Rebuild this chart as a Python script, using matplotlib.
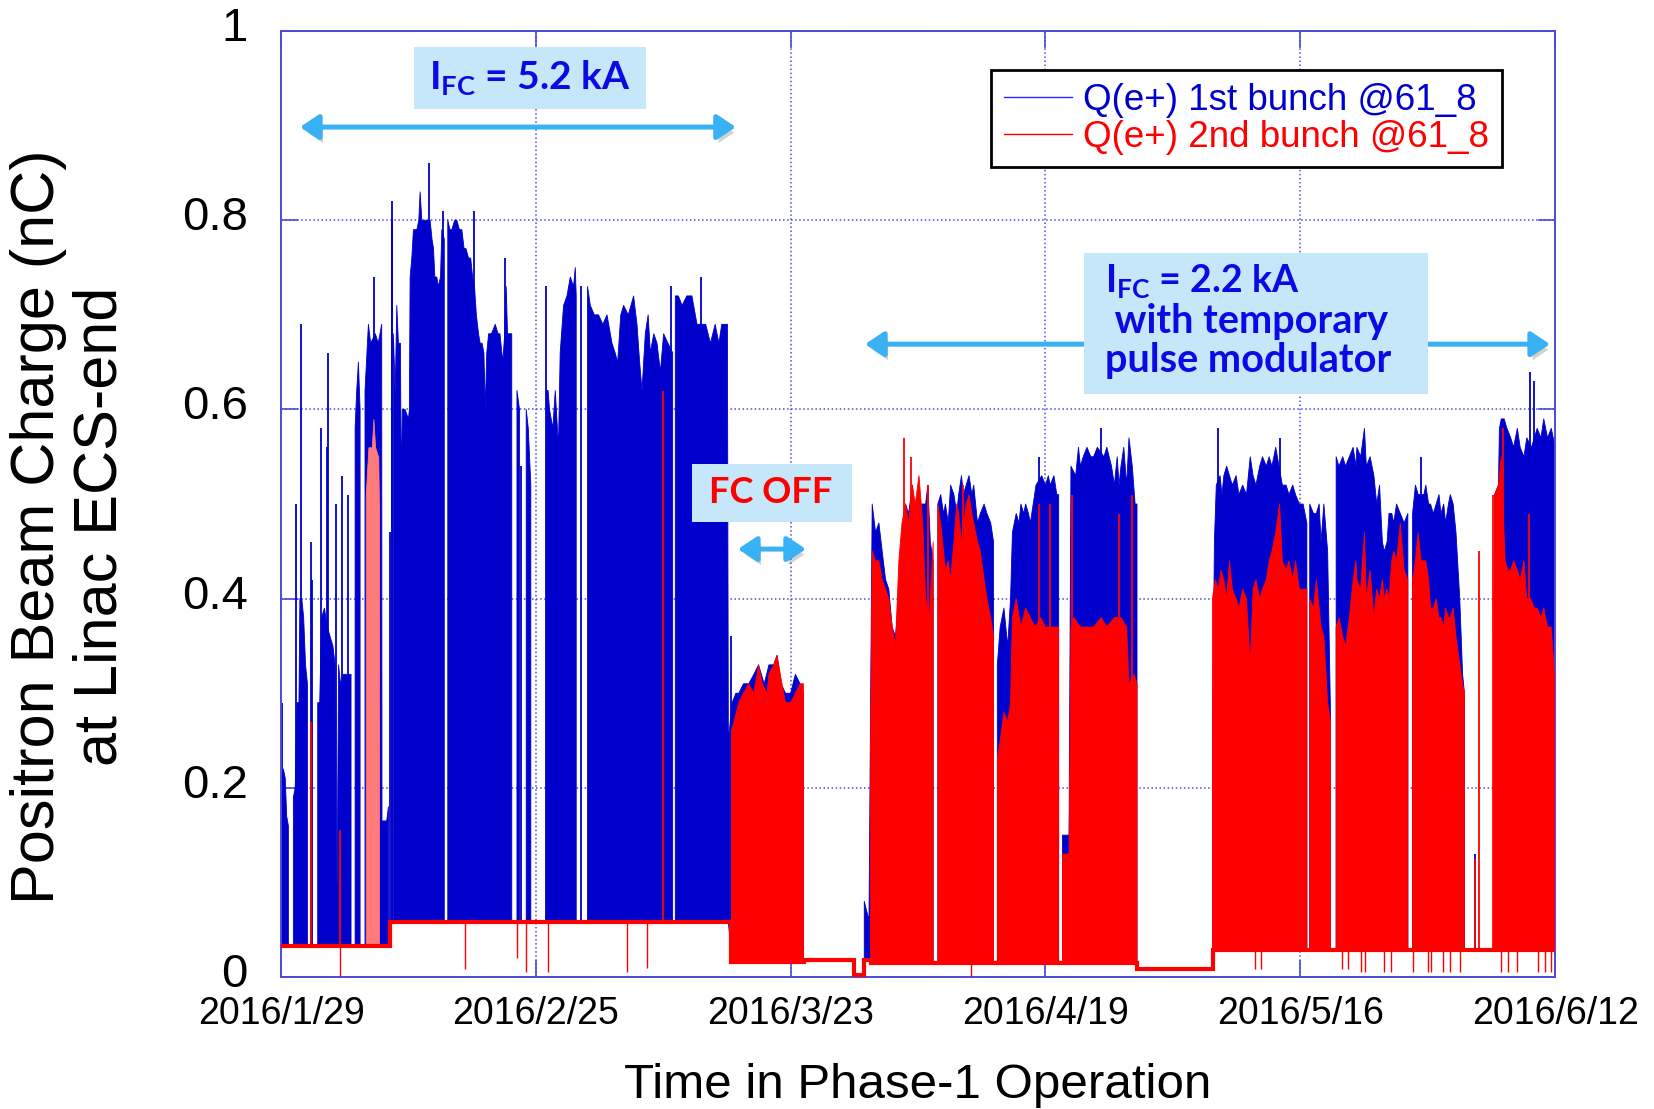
#!/usr/bin/env python3
"""Positron beam charge at Linac ECS-end during Phase-1 operation."""

import matplotlib

matplotlib.use("Agg")
import matplotlib.pyplot as plt
import matplotlib.patheffects as pe
import matplotlib.transforms as mtransforms
import numpy as np
from matplotlib.lines import Line2D
from matplotlib.patches import FancyArrowPatch, Rectangle

nan = np.nan

# x axis: days since 2016/1/29
tick_days = [0, 27, 54, 81, 108, 135]
tick_labels = ["2016/1/29", "2016/2/25", "2016/3/23", "2016/4/19", "2016/5/16", "2016/6/12"]
y_ticks = [0, 0.2, 0.4, 0.6, 0.8, 1.0]
y_tick_labels = ["0", "0.2", "0.4", "0.6", "0.8", "1"]

# pedestal level of the charge monitor (step segments)
base_edges = [0, 11.56, 47.72, 55.4, 60.75, 61.75, 62.5, 90.7, 98.7, 135]
base_vals = [0.033, 0.058, 0.016, 0.018, 0.002, 0.018, 0.015, 0.008, 0.029]

# 1st bunch: upper envelope of the dense pulse record (nan = no beam)
blue_day = [
    0.0, 0.25, 0.45, 0.6, 0.78, 0.8,
    1.31, 1.5, 1.7, 1.9, 2.0, 2.2, 2.4, 2.6, 2.8, 2.85,
    3.89, 4.1, 4.3, 4.6, 4.9, 5.2, 5.5, 5.73, 5.85, 5.95, 6.1, 6.3, 6.6, 6.9, 7.3, 7.42, 7.5,
    7.85, 8.02, 8.2, 8.38, 8.45,
    8.9, 9.26, 9.5, 10.0, 10.3, 10.67, 10.7, 11.2, 11.38, 11.45,
    11.9, 12.1, 12.27, 12.44, 12.65, 12.75, 12.85, 13.15, 13.5, 13.6, 13.68, 13.86, 14.03,
    14.39, 14.6, 14.74, 14.92, 15.09, 15.45, 15.8, 16.0, 16.16, 16.3, 16.5, 16.68, 16.9,
    17.04, 17.3, 17.35,
    17.67, 17.9, 18.1, 18.4, 18.63, 18.9, 19.16, 19.4, 19.6, 19.87, 20.1, 20.3, 20.5, 20.7,
    20.93, 21.1, 21.3, 21.5, 21.64, 21.8, 22.0, 22.3, 22.7, 23.0, 23.2, 23.5, 23.7, 23.86,
    24.0, 24.45, 24.5,
    25.0, 25.27, 25.32,
    25.98, 26.2, 26.47, 26.5,
    28.12, 28.3, 28.45, 28.8, 29.06, 29.4, 29.58, 29.94, 30.3, 30.65, 31.0, 31.18, 31.28, 31.35,
    32.48, 32.77, 33.2, 33.65, 34.1, 34.54, 35.07, 35.4, 35.67, 36.0, 36.3, 36.8, 37.36,
    37.72, 38.0, 38.25, 38.6, 38.9, 39.13, 39.5, 39.84, 40.2, 40.54, 41.0, 41.5, 41.55,
    41.78, 42.1, 42.5, 43.0, 43.54, 44.08, 44.8, 45.0, 45.5, 46.0, 46.4, 46.7, 47.0, 47.3,
    47.4, 47.8, 48.2, 48.5, 49.0, 49.56, 50.1, 50.6, 51.2, 51.7, 52.2, 52.56, 53.0, 53.45,
    54.0, 54.5, 55.0, 55.35, 55.4,
    61.8, 62.3, 62.45, 62.64, 63.0, 63.35, 63.7, 64.06, 64.4, 64.76, 65.1, 65.47, 66.0,
    66.17, 66.5, 66.9, 67.2, 67.6, 68.0, 68.3, 68.54, 68.8, 69.1, 69.25,
    69.6, 69.9, 70.2, 70.4, 70.7, 70.95, 71.3, 71.6, 71.8, 72.1, 72.3, 72.6, 72.9, 73.2,
    73.4, 73.8, 74.1, 74.5, 74.8, 75.2, 75.5, 75.6,
    75.9, 76.2, 76.6, 77.0, 77.3, 77.5, 77.9, 78.2, 78.4, 78.7, 78.9, 79.2, 79.4, 79.7,
    80.0, 80.6, 81.0, 81.3, 81.5, 81.9, 82.2, 82.4, 82.55,
    82.8, 83.5, 83.7, 84.2, 84.5, 84.7, 85.0, 85.4, 85.8, 86.1, 86.5, 87.2, 87.5, 88.0,
    88.3, 88.6, 88.8, 89.0, 89.3, 89.6, 89.85, 90.2, 90.5, 90.7, 90.75,
    98.7, 98.9, 99.1, 99.5, 99.7, 99.9, 100.2, 100.5, 100.8, 101.2, 101.5, 101.9, 102.3,
    102.7, 103.0, 103.3, 103.7, 104.0, 104.4, 104.7, 105.0, 105.4, 106.1, 106.5, 106.8,
    107.2, 107.5, 107.9, 108.3, 108.7, 108.8,
    109.0, 109.4, 109.7, 110.0, 110.2, 110.5, 110.9, 111.2, 111.5,
    111.8, 112.1, 112.5, 112.8, 113.2, 113.6, 113.9, 114.0, 114.4, 114.8, 115.0, 115.4,
    115.8, 116.1, 116.4, 116.7, 116.9, 117.2, 117.4, 117.7, 117.9, 118.2, 118.6, 119.0,
    119.4, 119.6,
    119.9, 120.2, 120.5, 121.1, 121.3, 121.6, 121.8, 122.1, 122.4, 122.7, 122.9, 123.2,
    123.4, 123.7, 123.9, 124.2, 124.5, 124.9, 125.2, 125.4, 125.5,
    128.6, 129.0, 129.1, 129.3, 129.6, 129.9, 130.3, 130.6, 131.0, 131.3, 131.7, 132.0,
    132.5, 133.1, 133.5, 133.8, 134.2, 134.6, 135.0,
]
blue_top = [
    0.20, 0.22, 0.21, 0.17, 0.16, nan,
    0.19, 0.20, 0.29, 0.29, 0.40, 0.40, 0.38, 0.33, 0.31, nan,
    0.29, 0.29, 0.38, 0.39, 0.37, 0.36, 0.35, 0.33, 0.10, 0.10, 0.33, 0.31, 0.32, 0.32, 0.32, 0.32, nan,
    0.58, 0.62, 0.65, 0.60, nan,
    0.62, 0.69, 0.67, 0.68, 0.67, 0.69, 0.165, 0.165, 0.18, nan,
    0.68, 0.62, 0.71, 0.67, 0.67, 0.51, 0.60, 0.60, 0.59, 0.60, 0.74, 0.76, 0.79,
    0.79, 0.80, 0.83, 0.80, 0.80, 0.80, 0.80, 0.78, 0.77, 0.74, 0.74, 0.73, 0.74,
    0.79, 0.78, nan,
    0.80, 0.79, 0.79, 0.80, 0.80, 0.79, 0.79, 0.77, 0.77, 0.76, 0.76, 0.74, 0.73, 0.70,
    0.68, 0.67, 0.67, 0.66, 0.60, 0.66, 0.68, 0.68, 0.69, 0.68, 0.68, 0.65, 0.68, 0.73,
    0.68, 0.68, nan,
    0.62, 0.60, nan,
    0.60, 0.58, 0.52, nan,
    0.62, 0.62, 0.60, 0.58, 0.62, 0.56, 0.66, 0.71, 0.72, 0.74, 0.73, 0.75, 0.72, nan,
    0.73, 0.71, 0.70, 0.70, 0.69, 0.70, 0.67, 0.66, 0.65, 0.70, 0.71, 0.70, 0.72,
    0.69, 0.65, 0.62, 0.68, 0.70, 0.66, 0.68, 0.67, 0.64, 0.68, 0.67, 0.66, nan,
    0.72, 0.72, 0.71, 0.72, 0.72, 0.69, 0.69, 0.69, 0.67, 0.69, 0.67, 0.69, 0.69, 0.69,
    0.25, 0.29, 0.30, 0.30, 0.31, 0.31, 0.32, 0.33, 0.31, 0.33, 0.33, 0.34, 0.31, 0.30,
    0.30, 0.32, 0.31, 0.30, nan,
    0.08, 0.06, 0.26, 0.50, 0.47, 0.48, 0.45, 0.42, 0.41, 0.37, 0.36, 0.40, 0.45,
    0.50, 0.49, 0.52, 0.48, 0.50, 0.50, 0.50, 0.52, 0.46, 0.44, nan,
    0.50, 0.51, 0.49, 0.50, 0.48, 0.52, 0.51, 0.49, 0.51, 0.53, 0.51, 0.52, 0.53, 0.51,
    0.52, 0.48, 0.49, 0.50, 0.49, 0.48, 0.46, nan,
    0.33, 0.37, 0.39, 0.35, 0.40, 0.47, 0.49, 0.48, 0.50, 0.49, 0.50, 0.49, 0.48, 0.50,
    0.52, 0.53, 0.52, 0.53, 0.52, 0.53, 0.51, 0.51, nan,
    0.15, 0.15, 0.54, 0.53, 0.56, 0.54, 0.55, 0.56, 0.55, 0.55, 0.56, 0.55, 0.56, 0.54,
    0.52, 0.55, 0.52, 0.54, 0.56, 0.52, 0.57, 0.54, 0.50, 0.50, nan,
    0.24, 0.46, 0.52, 0.53, 0.51, 0.53, 0.54, 0.53, 0.52, 0.53, 0.51, 0.52, 0.51,
    0.55, 0.53, 0.52, 0.54, 0.55, 0.54, 0.55, 0.54, 0.56, 0.52, 0.52, 0.51,
    0.52, 0.51, 0.50, 0.50, 0.48, nan,
    0.50, 0.49, 0.49, 0.50, 0.46, 0.50, 0.45, 0.28, nan,
    0.55, 0.54, 0.55, 0.54, 0.55, 0.56, 0.54, 0.56, 0.55, 0.58, 0.54, 0.55,
    0.53, 0.50, 0.52, 0.46, 0.45, 0.46, 0.49, 0.49, 0.48, 0.50, 0.49, 0.48,
    0.49, nan,
    0.49, 0.52, 0.51, 0.51, 0.52, 0.50, 0.50, 0.49, 0.50, 0.51, 0.49, 0.50,
    0.48, 0.50, 0.51, 0.50, 0.47, 0.40, 0.32, 0.30, nan,
    0.51, 0.52, 0.58, 0.59, 0.59, 0.58, 0.57, 0.56, 0.58, 0.56, 0.55, 0.57,
    0.56, 0.58, 0.57, 0.59, 0.57, 0.58, 0.56,
]

# 2nd bunch envelope (nan = only pedestal)
red_day = [
    47.72, 48.0, 48.5, 49.0, 49.56, 50.1, 50.6, 51.0, 51.5, 51.7, 52.2, 52.56, 52.9, 53.45,
    54.0, 54.5, 55.0, 55.35, 55.4,
    62.46, 62.64, 63.0, 63.35, 63.7, 64.06, 64.4, 64.76, 65.1, 65.47, 65.8, 66.17, 66.5,
    66.9, 67.2, 67.6, 68.0, 68.3, 68.7, 69.1, 69.25,
    69.6, 69.9, 70.2, 70.4, 70.7, 70.95, 71.3, 71.6, 71.8, 72.1, 72.6, 72.9, 73.2, 73.4,
    73.8, 74.1, 74.5, 74.8, 75.2, 75.5, 75.6,
    75.9, 76.2, 76.6, 77.0, 77.3, 77.5, 77.9, 78.4, 78.9, 79.4, 79.9, 80.5, 81.0, 81.7,
    82.4, 82.55,
    82.8, 83.5, 83.7, 84.0, 84.7, 85.4, 86.1, 86.9, 87.5, 88.3, 89.0, 89.6, 89.85, 90.4,
    90.7, 90.75,
    98.7, 99.0, 99.3, 99.6, 99.9, 100.2, 100.5, 100.8, 101.2, 101.5, 101.9, 102.3, 102.7,
    103.0, 103.3, 103.7, 104.0, 104.4, 104.7, 105.0, 105.4, 105.8, 106.1, 106.5, 106.8,
    107.2, 107.5, 107.9, 108.3, 108.7, 108.8,
    109.0, 109.4, 109.7, 110.0, 110.2, 110.5, 110.9, 111.2, 111.5,
    111.8, 112.1, 112.5, 112.8, 113.2, 113.6, 113.9, 114.0, 114.4, 114.8, 115.0, 115.4,
    115.8, 116.1, 116.4, 116.7, 116.9, 117.2, 117.4, 117.7, 117.9, 118.2, 118.6, 119.0,
    119.4, 119.6,
    119.9, 120.2, 120.5, 120.8, 121.1, 121.3, 121.6, 121.8, 122.1, 122.4, 122.7, 122.9,
    123.2, 123.4, 123.7, 123.9, 124.2, 124.5, 124.9, 125.2, 125.4, 125.5,
    128.5, 128.6, 129.0, 129.3, 129.7, 130.0, 130.3, 130.6, 131.0, 131.3, 131.7, 132.0,
    132.4, 132.8, 133.1, 133.5, 133.8, 134.2, 134.6, 135.0,
]
red_top = [
    0.26, 0.27, 0.29, 0.30, 0.31, 0.30, 0.33, 0.31, 0.30, 0.32, 0.33, 0.34, 0.32, 0.29,
    0.29, 0.30, 0.31, 0.31, nan,
    0.24, 0.45, 0.44, 0.44, 0.42, 0.41, 0.40, 0.37, 0.35, 0.44, 0.48, 0.50, 0.48,
    0.52, 0.50, 0.53, 0.48, 0.40, 0.38, 0.46, nan,
    0.50, 0.48, 0.45, 0.43, 0.44, 0.42, 0.46, 0.50, 0.49, 0.46, 0.50, 0.51, 0.49, 0.48,
    0.46, 0.45, 0.42, 0.40, 0.38, 0.36, nan,
    0.23, 0.25, 0.28, 0.27, 0.29, 0.38, 0.40, 0.37, 0.39, 0.38, 0.37, 0.38, 0.37, 0.37,
    0.37, nan,
    0.13, 0.13, 0.37, 0.38, 0.37, 0.37, 0.37, 0.38, 0.37, 0.38, 0.38, 0.37, 0.31, 0.32,
    0.31, nan,
    0.40, 0.42, 0.41, 0.43, 0.42, 0.40, 0.44, 0.41, 0.40, 0.39, 0.41, 0.40, 0.33,
    0.41, 0.42, 0.40, 0.41, 0.42, 0.44, 0.45, 0.47, 0.50, 0.44, 0.43, 0.44,
    0.42, 0.44, 0.41, 0.41, 0.41, nan,
    0.40, 0.39, 0.42, 0.39, 0.37, 0.36, 0.29, 0.27, nan,
    0.37, 0.38, 0.36, 0.35, 0.38, 0.42, 0.44, 0.42, 0.41, 0.47, 0.40, 0.43,
    0.38, 0.41, 0.40, 0.42, 0.40, 0.41, 0.40, 0.44, 0.45, 0.44, 0.48, 0.43,
    0.42, nan,
    0.42, 0.44, 0.47, 0.44, 0.44, 0.44, 0.42, 0.39, 0.39, 0.40, 0.38, 0.38,
    0.37, 0.39, 0.38, 0.38, 0.39, 0.36, 0.33, 0.31, 0.30, nan,
    0.35, 0.51, 0.52, 0.55, 0.44, 0.43, 0.43, 0.44, 0.43, 0.42, 0.44, 0.40,
    0.40, 0.39, 0.39, 0.38, 0.39, 0.37, 0.37, 0.31,
]

# 2nd bunch burst in early February (drawn paler in the original record)
red_early_day = [8.98, 9.26, 9.62, 9.79, 9.97, 10.3, 10.39]
red_early_top = [0.51, 0.56, 0.56, 0.59, 0.56, 0.55, 0.49]

# isolated single-shot spikes
blue_spike_day = [0.14, 1.59, 2.12, 3.18, 3.28, 4.2, 4.84, 5.02, 5.83, 6.43, 7.14, 9.83,
                  11.5, 11.74, 11.8, 15.63, 17.21, 20.4, 23.75, 25.4, 28.1, 31.78, 41.36,
                  44.5, 47.72, 80.3, 86.9, 99.3, 105.8, 120.8, 126.5, 132.3, 132.8]
blue_spike_val = [0.29, 0.50, 0.69, 0.46, 0.42, 0.58, 0.56, 0.66, 0.50, 0.53, 0.51, 0.74,
                  0.47, 0.80, 0.82, 0.86, 0.81, 0.81, 0.76, 0.54, 0.73, 0.73, 0.73,
                  0.74, 0.36, 0.55, 0.58, 0.58, 0.57, 0.55, 0.13, 0.64, 0.63]
red_spike_day = [3.18, 6.25, 40.5, 66.0, 66.7, 68.54, 72.3, 80.3, 81.5, 83.8, 88.8, 90.2,
                 126.5, 126.96, 128.4, 129.5, 132.2]
red_spike_val = [0.27, 0.155, 0.62, 0.57, 0.55, 0.52, 0.52, 0.50, 0.50, 0.51, 0.49, 0.51,
                 0.125, 0.45, 0.51, 0.58, 0.49]
# short drop-outs below the pedestal
drop_day = [6.25, 19.5, 25.0, 26.0, 28.3, 36.7, 38.8, 73.1, 103.2, 103.8, 112.4, 113.1,
            114.4, 114.9, 116.9, 117.6, 119.9, 121.5, 121.8, 123.1, 123.9, 124.9, 129.3,
            130.0, 131.0, 133.2, 133.9, 134.6]
drop_val = [0.0, 0.008, 0.02, 0.005, 0.005, 0.005, 0.01, 0.0, 0.008, 0.008, 0.008, 0.008,
            0.005, 0.005, 0.005, 0.005, 0.005, 0.005, 0.005, 0.005, 0.005, 0.005, 0.005,
            0.005, 0.005, 0.005, 0.005, 0.005]

BLUE = "#0000cc"
RED = "#ff0000"
GRID = "#4b4bdc"
BOX = "#c6e6fa"
ARROW = "#38b2f4"
TXT_BLUE = "#0a0ae6"


def base_at(days):
    d = np.asarray(days, dtype=float)
    idx = np.clip(np.searchsorted(base_edges, d, side="right") - 1, 0, len(base_vals) - 1)
    return np.asarray(base_vals)[idx]


def main() -> None:
    plt.rcParams.update({
        "font.family": ["Liberation Sans", "DejaVu Sans"],
        "mathtext.fontset": "custom",
        "mathtext.rm": "Lato:bold",
        "mathtext.bf": "Lato:bold",
    })
    fig = plt.figure(figsize=(16.54, 11.09), dpi=100)
    ax = fig.add_axes([0.1699, 0.1190, 0.7703, 0.8530])

    bd = np.asarray(blue_day)
    rd = np.asarray(red_day)
    ax.fill_between(bd, base_at(bd), blue_top, color=BLUE, lw=0.6, zorder=2)
    ax.vlines(blue_spike_day, base_at(blue_spike_day), blue_spike_val, color=BLUE, lw=1.3, zorder=2)

    ed = np.asarray(red_early_day)
    ax.fill_between(ed, base_at(ed), red_early_top, color="#ff7a7a", lw=0.6, zorder=3)
    ax.fill_between(rd, base_at(rd), red_top, color=RED, lw=0.6, zorder=3)
    ax.vlines(red_spike_day, base_at(red_spike_day), red_spike_val, color=RED, lw=1.3, zorder=3)
    ax.stairs(base_vals, base_edges, baseline=None, color=RED, lw=3.0, zorder=4)
    ax.vlines(drop_day, drop_val, base_at(drop_day), color=RED, lw=1.0, zorder=4)

    ax.set_xlim(tick_days[0], tick_days[-1])
    ax.set_ylim(0, 1)
    ax.set_xticks(tick_days, tick_labels)
    ax.set_yticks(y_ticks, y_tick_labels)
    ax.tick_params(axis="both", which="major", direction="in", length=12, width=1.2,
                   color=GRID, top=True, right=True)
    ax.tick_params(axis="x", labelsize=27, pad=14)
    ax.tick_params(axis="y", labelsize=34, pad=24)
    # the y labels sit slightly above their grid lines in the original
    lift = mtransforms.ScaledTranslation(0, 0.07, fig.dpi_scale_trans)
    for lab in ax.get_yticklabels():
        lab.set_transform(lab.get_transform() + lift)
    ax.set_axisbelow(True)
    ax.grid(True, linestyle=":", color=GRID, lw=1.1)
    for s in ax.spines.values():
        s.set_color(GRID)
        s.set_linewidth(1.4)

    ax.set_xlabel("Time in Phase-1 Operation", fontsize=35.5, labelpad=22)
    ax.set_ylabel("Positron Beam Charge (nC)\nat Linac ECS-end", fontsize=44,
                  linespacing=1.12)
    ax.yaxis.set_label_coords(-0.119, 0.476)

    handles = [Line2D([], [], color="#2a2aff", lw=1.0), Line2D([], [], color=RED, lw=1.0)]
    leg = ax.legend(handles, ["Q(e+) 1st bunch @61_8", "Q(e+) 2nd bunch @61_8"],
                    loc="upper right", bbox_to_anchor=(0.958, 0.959), borderaxespad=0,
                    fontsize=26.5, frameon=True, fancybox=False, framealpha=1,
                    edgecolor="black", handlelength=1.85, handletextpad=0.3,
                    labelspacing=0.05, borderpad=0.35, labelcolor=[BLUE, RED])
    leg.get_frame().set_linewidth(2.0)
    leg.set_zorder(10)

    # annotation boxes
    boxes = [(0.1044, 0.9175, 0.1821, 0.0655), (0.3226, 0.4810, 0.1256, 0.0613),
             (0.6303, 0.6163, 0.2700, 0.1490)]
    for x0, y0, w, h in boxes:
        ax.add_patch(Rectangle((x0, y0), w, h, transform=ax.transAxes, facecolor=BOX,
                               edgecolor="none", zorder=7, clip_on=False))

    bold = dict(family="Lato", fontweight="bold", transform=ax.transAxes, zorder=8)
    ax.text(0.1950, 0.9505, r"I$_\mathbf{FC}$ = 5.2 kA", fontsize=28, color=TXT_BLUE,
            ha="center", va="center", **bold)
    ax.text(0.3840, 0.5125, "FC OFF", fontsize=26, color=RED, ha="center", va="center", **bold)
    ax.text(0.6468, 0.7230, r"I$_\mathbf{FC}$ = 2.2 kA", fontsize=27, color=TXT_BLUE,
            ha="left", va="baseline", **bold)
    ax.text(0.6468, 0.6810, " with temporary", fontsize=28.5, color=TXT_BLUE,
            ha="left", va="baseline", **bold)
    ax.text(0.6468, 0.6400, "pulse modulator", fontsize=28.5, color=TXT_BLUE,
            ha="left", va="baseline", **bold)

    shadow = [pe.SimplePatchShadow(offset=(2, -4), shadow_rgbFace="#808080", alpha=0.35), pe.Normal()]
    arrows = [((0.0149, 0.8985), (0.3570, 0.8985), 6),
              ((0.3587, 0.4524), (0.4120, 0.4524), 6),
              ((0.4584, 0.6690), (0.9960, 0.6690), 6)]
    for (xa, ya), (xb, yb), zo in arrows:
        arr = FancyArrowPatch((xa, ya), (xb, yb), transform=ax.transAxes,
                              arrowstyle="<|-|>,head_length=0.45,head_width=0.3",
                              mutation_scale=25, color=ARROW, lw=3.6, zorder=zo,
                              shrinkA=0, shrinkB=0, clip_on=False)
        arr.set_path_effects(shadow)
        ax.add_patch(arr)

    fig.savefig("out.png", dpi=100)
    plt.close(fig)


if __name__ == "__main__":
    main()
